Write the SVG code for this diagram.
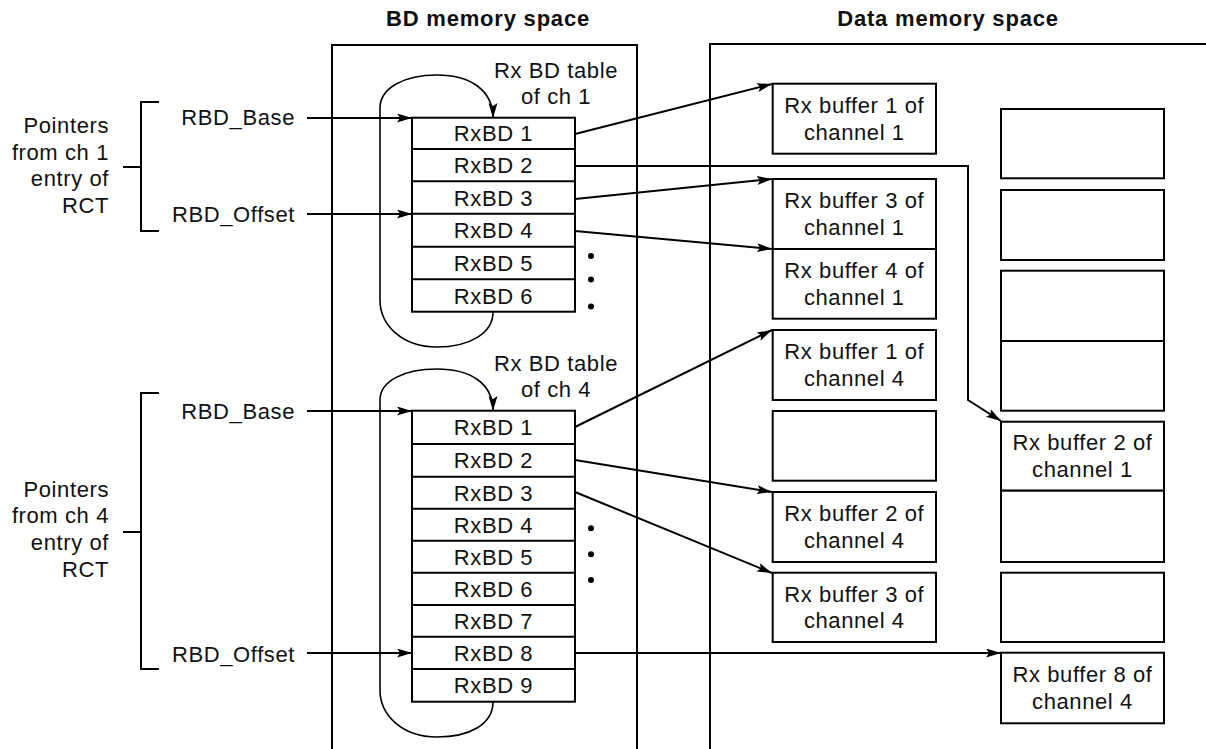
<svg xmlns="http://www.w3.org/2000/svg" width="1206" height="749" viewBox="0 0 1206 749">
  <defs>
    <style>
      text { font-family: "Liberation Sans", Arial, Helvetica, sans-serif; font-size: 22px; fill: #111; letter-spacing: 0.6px; }
      .hd { font-weight: bold; letter-spacing: 0.8px; }
      .mid { text-anchor: middle; }
      .end { text-anchor: end; }
      .box { fill: #fff; stroke: #000; stroke-width: 2; }
      .frame { fill: none; stroke: #000; stroke-width: 2; }
      .conn { fill: none; stroke: #000; stroke-width: 2; marker-end: url(#ah); }
      .loop { fill: none; stroke: #000; stroke-width: 1.6; marker-end: url(#ah); }
      .plain { fill: none; stroke: #000; stroke-width: 2; }
      .dot { fill: #000; }
    </style>
    <marker id="ah" markerUnits="userSpaceOnUse" markerWidth="16" markerHeight="10" refX="15" refY="4.5" orient="auto">
      <path d="M0,0 L15,4.5 L0,9 L3,4.5 Z" fill="#000"/>
    </marker>
  </defs>

  <!-- headings and memory space frames -->
  <g id="bd-space">
    <text class="hd mid" x="488" y="26">BD memory space</text>
    <path class="frame" d="M332,749 L332,45 L637,45 L637,749"/>
  </g>
  <g id="data-space">
    <text class="hd mid" x="948" y="26">Data memory space</text>
    <path class="frame" d="M710,749 L710,44 L1207,44"/>
  </g>

  <!-- pointer labels ch1 -->
  <g id="pointers-ch1">
    <text class="end" x="109" y="133">Pointers</text>
    <text class="end" x="109" y="159.5">from ch 1</text>
    <text class="end" x="109" y="186">entry of</text>
    <text class="end" x="109" y="212.7">RCT</text>
    <path class="plain" d="M159,102 L141,102 L141,231 L159,231 M123,167 L141,167"/>
  </g>
  <g id="rbd-base-ch1"><text class="end" x="295" y="125.3">RBD_Base</text></g>
  <g id="rbd-offset-ch1"><text class="end" x="295" y="221.7">RBD_Offset</text></g>

  <!-- pointer labels ch4 -->
  <g id="pointers-ch4">
    <text class="end" x="109" y="496.7">Pointers</text>
    <text class="end" x="109" y="523.4">from ch 4</text>
    <text class="end" x="109" y="550.1">entry of</text>
    <text class="end" x="109" y="576.7">RCT</text>
    <path class="plain" d="M159,393 L141,393 L141,669 L159,669 M123,532 L141,532"/>
  </g>
  <g id="rbd-base-ch4"><text class="end" x="295" y="419">RBD_Base</text></g>
  <g id="rbd-offset-ch4"><text class="end" x="295" y="661.7">RBD_Offset</text></g>

  <!-- BD table ch1 -->
  <g id="bd-table-ch1">
    <text class="mid" x="556" y="78.3">Rx BD table</text>
    <text class="mid" x="556" y="104.3">of ch 1</text>
    <rect class="box" x="412" y="117.7" width="163" height="194"/>
    <path class="plain" d="M412,149 H575 M412,181.3 H575 M412,213.7 H575 M412,246.7 H575 M412,279.3 H575"/>
    <text class="mid" x="493.5" y="141.3">RxBD 1</text>
    <text class="mid" x="493.5" y="173.2">RxBD 2</text>
    <text class="mid" x="493.5" y="205.5">RxBD 3</text>
    <text class="mid" x="493.5" y="238.2">RxBD 4</text>
    <text class="mid" x="493.5" y="271">RxBD 5</text>
    <text class="mid" x="493.5" y="303.5">RxBD 6</text>
    <circle class="dot" cx="591" cy="256" r="3"/>
    <circle class="dot" cx="591" cy="279.5" r="3"/>
    <circle class="dot" cx="591" cy="306.5" r="3"/>
  </g>

  <!-- BD table ch4 -->
  <g id="bd-table-ch4">
    <text class="mid" x="556" y="370.7">Rx BD table</text>
    <text class="mid" x="556" y="397.3">of ch 4</text>
    <rect class="box" x="412" y="410.7" width="163" height="291"/>
    <path class="plain" d="M412,444 H575 M412,476.7 H575 M412,508.7 H575 M412,540.7 H575 M412,572.7 H575 M412,605 H575 M412,636.7 H575 M412,669 H575"/>
    <text class="mid" x="493.5" y="435">RxBD 1</text>
    <text class="mid" x="493.5" y="468">RxBD 2</text>
    <text class="mid" x="493.5" y="500.5">RxBD 3</text>
    <text class="mid" x="493.5" y="532.5">RxBD 4</text>
    <text class="mid" x="493.5" y="564.5">RxBD 5</text>
    <text class="mid" x="493.5" y="596.5">RxBD 6</text>
    <text class="mid" x="493.5" y="628.7">RxBD 7</text>
    <text class="mid" x="493.5" y="660.7">RxBD 8</text>
    <text class="mid" x="493.5" y="693">RxBD 9</text>
    <circle class="dot" cx="591" cy="528.3" r="3"/>
    <circle class="dot" cx="591" cy="554.3" r="3"/>
    <circle class="dot" cx="591" cy="580" r="3"/>
  </g>

  <!-- data buffers, left column -->
  <g id="buf1-ch1">
    <rect class="box" x="772.7" y="83.7" width="163.3" height="70"/>
    <text class="mid" x="854.3" y="112.7">Rx buffer 1 of</text>
    <text class="mid" x="854.3" y="140">channel 1</text>
  </g>
  <g id="buf3-ch1">
    <rect class="box" x="772.7" y="179" width="163.3" height="70"/>
    <text class="mid" x="854.3" y="208">Rx buffer 3 of</text>
    <text class="mid" x="854.3" y="235">channel 1</text>
  </g>
  <g id="buf4-ch1">
    <rect class="box" x="772.7" y="249" width="163.3" height="69.7"/>
    <text class="mid" x="854.3" y="278">Rx buffer 4 of</text>
    <text class="mid" x="854.3" y="305">channel 1</text>
  </g>
  <g id="buf1-ch4">
    <rect class="box" x="772.7" y="330" width="163.3" height="70"/>
    <text class="mid" x="854.3" y="359">Rx buffer 1 of</text>
    <text class="mid" x="854.3" y="386">channel 4</text>
  </g>
  <g id="empty-l1">
    <rect class="box" x="772.7" y="411" width="163.3" height="69.7"/>
  </g>
  <g id="buf2-ch4">
    <rect class="box" x="772.7" y="492" width="163.3" height="70"/>
    <text class="mid" x="854.3" y="520.7">Rx buffer 2 of</text>
    <text class="mid" x="854.3" y="547.5">channel 4</text>
  </g>
  <g id="buf3-ch4">
    <rect class="box" x="772.7" y="572.7" width="163.3" height="69.3"/>
    <text class="mid" x="854.3" y="601.5">Rx buffer 3 of</text>
    <text class="mid" x="854.3" y="628.3">channel 4</text>
  </g>

  <!-- data buffers, right column -->
  <g id="empty-r1"><rect class="box" x="1001" y="109" width="163" height="69.3"/></g>
  <g id="empty-r2"><rect class="box" x="1001" y="190" width="163" height="70"/></g>
  <g id="empty-r3"><rect class="box" x="1001" y="270.7" width="163" height="70.3"/></g>
  <g id="empty-r4"><rect class="box" x="1001" y="341" width="163" height="69.7"/></g>
  <g id="buf2-ch1">
    <rect class="box" x="1001" y="421.7" width="163" height="69"/>
    <text class="mid" x="1082.5" y="450">Rx buffer 2 of</text>
    <text class="mid" x="1082.5" y="477.3">channel 1</text>
  </g>
  <g id="empty-r5"><rect class="box" x="1001" y="490.7" width="163" height="71.3"/></g>
  <g id="empty-r6"><rect class="box" x="1001" y="572.7" width="163" height="69.3"/></g>
  <g id="buf8-ch4">
    <rect class="box" x="1001" y="652.7" width="163" height="70.6"/>
    <text class="mid" x="1082.5" y="681.5">Rx buffer 8 of</text>
    <text class="mid" x="1082.5" y="708.5">channel 4</text>
  </g>

  <!-- connectors -->
  <g id="connectors">
    <path class="conn" d="M307,118 L412,118"/>
    <path class="conn" d="M307,214 L412,214"/>
    <path class="conn" d="M307,411 L412,411"/>
    <path class="conn" d="M307,653 L412,653"/>
    <path class="loop" d="M493,312 C493,333 470,347 437,347 C402,347 380,325 380,300 L380,108 C380,88 404,75 437,75 C470,75 493,90 493,118"/>
    <path class="loop" d="M493,702 C493,724 470,737 437,737 C402,737 380,715 380,690 L380,400 C380,381 404,369 437,369 C470,369 493,383 493,411"/>
    <path class="conn" d="M575,134 L772,84"/>
    <path class="conn" d="M575,166 L968,166 L968,400 L1001,421"/>
    <path class="conn" d="M575,199 L772,179"/>
    <path class="conn" d="M575,231 L772,249"/>
    <path class="conn" d="M575,427 L772,330"/>
    <path class="conn" d="M575,460 L772,492"/>
    <path class="conn" d="M575,492 L772,573"/>
    <path class="conn" d="M575,653 L1001,653"/>
  </g>
</svg>
